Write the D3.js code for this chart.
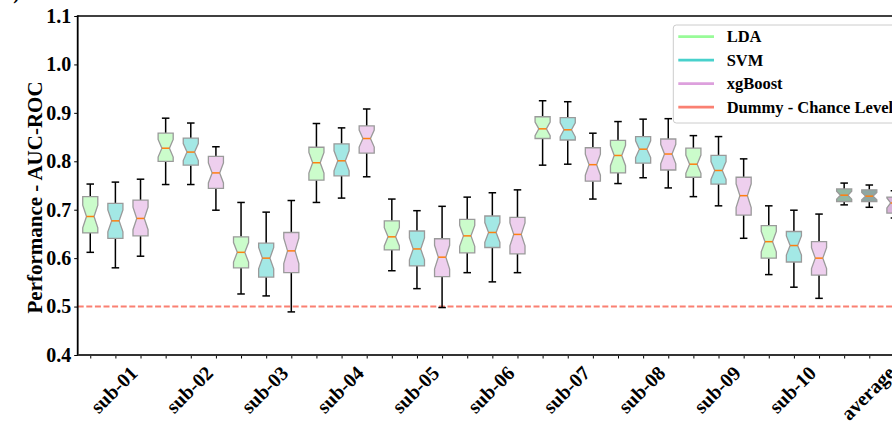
<!DOCTYPE html>
<html>
<head>
<meta charset="utf-8">
<script src="https://cdn.jsdelivr.net/npm/d3@7"></script>
<style>
  html, body { margin: 0; padding: 0; background: #fff; }
  svg { display: block; }
  text { font-family: "Liberation Serif", "Times New Roman", serif; font-weight: bold; fill: #000; }
</style>
</head>
<body>
<svg id="chart" width="892" height="425"></svg>
<script>
// Subjects and the three classifiers compared on each of them
const categories = ["sub-01", "sub-02", "sub-03", "sub-04", "sub-05", "sub-06", "sub-07", "sub-08", "sub-09", "sub-10", "average"];
const models = ["LDA", "SVM", "xgBoost"];

// AUC-ROC summaries per subject: [lower whisker, Q1, median, Q3, upper whisker]
const ldaStats = [
  [0.612, 0.652, 0.686, 0.727, 0.753],
  [0.752, 0.800, 0.827, 0.858, 0.889],
  [0.526, 0.580, 0.612, 0.644, 0.715],
  [0.715, 0.761, 0.797, 0.829, 0.878],
  [0.574, 0.617, 0.644, 0.677, 0.722],
  [0.570, 0.611, 0.646, 0.680, 0.726],
  [0.792, 0.847, 0.867, 0.892, 0.925],
  [0.754, 0.776, 0.812, 0.843, 0.882],
  [0.727, 0.767, 0.794, 0.827, 0.853],
  [0.566, 0.600, 0.634, 0.667, 0.708],
  [0.710, 0.717, 0.730, 0.743, 0.755]
];
const svmStats = [
  [0.580, 0.641, 0.677, 0.713, 0.757],
  [0.752, 0.792, 0.819, 0.848, 0.879],
  [0.522, 0.561, 0.600, 0.631, 0.695],
  [0.724, 0.770, 0.801, 0.836, 0.869],
  [0.537, 0.584, 0.619, 0.656, 0.698],
  [0.551, 0.622, 0.653, 0.687, 0.735],
  [0.794, 0.844, 0.865, 0.890, 0.923],
  [0.766, 0.796, 0.825, 0.851, 0.887],
  [0.708, 0.753, 0.781, 0.812, 0.851],
  [0.540, 0.592, 0.626, 0.655, 0.699],
  [0.705, 0.717, 0.728, 0.741, 0.751]
];
const xgbStats = [
  [0.604, 0.646, 0.682, 0.720, 0.763],
  [0.699, 0.744, 0.776, 0.810, 0.830],
  [0.489, 0.570, 0.615, 0.653, 0.719],
  [0.768, 0.817, 0.847, 0.873, 0.908],
  [0.498, 0.562, 0.602, 0.640, 0.707],
  [0.570, 0.609, 0.649, 0.684, 0.741],
  [0.722, 0.759, 0.793, 0.828, 0.858],
  [0.745, 0.782, 0.815, 0.846, 0.888],
  [0.641, 0.689, 0.729, 0.767, 0.805],
  [0.517, 0.565, 0.600, 0.634, 0.691],
  [0.683, 0.693, 0.714, 0.726, 0.739]
];

const chanceLevel = 0.5;
const foldsPerSubject = 25;   // samples behind each box, sets the notch size
const yTicks = [0.4, 0.5, 0.6, 0.7, 0.8, 0.9, 1.0, 1.1];

// Colours
const lineColors = ["#98fb98", "#48d1cc", "#dda0dd"];
const boxFills = ["#cbfccb", "#a3e8e5", "#eecfee"];
const averageFills = ["#93b8a2", "#8ea7a2", "#d9b3d9"];
const chanceColor = "#fa8072";

const svg = d3.select("#chart");

const plotLeft = 77.7, plotTop = 16, plotBottom = 355, step = 25.13;
const nPos = categories.length * models.length;
const x = d3.scaleLinear().domain([0.5, nPos + 0.5]).range([plotLeft, plotLeft + nPos * step]);
const y = d3.scaleLinear().domain([0.4, 1.1]).range([plotBottom, plotTop]);
const boxWidth = 0.6;

// Build the flat list of boxes (position 1..33)
const allStats = [ldaStats, svmStats, xgbStats];
const boxes = [];
categories.forEach((cat, ci) => {
  models.forEach((m, mi) => {
    const s = allStats[mi][ci];
    boxes.push({
      pos: ci * models.length + mi + 1,
      model: mi,
      isAverage: cat === "average",
      low: s[0], q1: s[1], med: s[2], q3: s[3], high: s[4]
    });
  });
});

// Chance level
svg.append("line")
  .attr("x1", plotLeft).attr("x2", x(nPos + 0.5))
  .attr("y1", y(chanceLevel)).attr("y2", y(chanceLevel))
  .attr("stroke", chanceColor).attr("stroke-width", 1.9)
  .attr("stroke-dasharray", "6,2.6");

// Whiskers and caps
const g = svg.append("g");
boxes.forEach(b => {
  const cx = x(b.pos);
  const capHalf = (x(boxWidth / 4) - x(0));
  g.append("line").attr("x1", cx).attr("x2", cx).attr("y1", y(b.q3)).attr("y2", y(b.high))
    .attr("stroke", "#000").attr("stroke-width", 1.5);
  g.append("line").attr("x1", cx).attr("x2", cx).attr("y1", y(b.q1)).attr("y2", y(b.low))
    .attr("stroke", "#000").attr("stroke-width", 1.5);
  [b.high, b.low].forEach(v => {
    g.append("line").attr("x1", cx - capHalf).attr("x2", cx + capHalf)
      .attr("y1", y(v)).attr("y2", y(v))
      .attr("stroke", "#000").attr("stroke-width", 1.5);
  });
});

// Notched boxes
boxes.forEach(b => {
  const left = x(b.pos - boxWidth / 2), right = x(b.pos + boxWidth / 2);
  const nl = x(b.pos - boxWidth / 4), nr = x(b.pos + boxWidth / 4);
  const notch = 1.57 * (b.q3 - b.q1) / Math.sqrt(foldsPerSubject);
  const lo = b.med - notch, hi = b.med + notch;
  const pts = [
    [left, y(b.q1)], [right, y(b.q1)], [right, y(lo)], [nr, y(b.med)], [right, y(hi)],
    [right, y(b.q3)], [left, y(b.q3)], [left, y(hi)], [nl, y(b.med)], [left, y(lo)]
  ];
  g.append("path")
    .attr("d", d3.line()(pts) + "Z")
    .attr("fill", b.isAverage ? averageFills[b.model] : boxFills[b.model])
    .attr("stroke", "#9a9a9a").attr("stroke-width", 1.3);
  g.append("line").attr("x1", nl).attr("x2", nr).attr("y1", y(b.med)).attr("y2", y(b.med))
    .attr("stroke", "#ff7f0e").attr("stroke-width", 1.5);
});

// Axes
const yAxis = svg.append("g").attr("transform", `translate(${plotLeft},0)`)
  .call(d3.axisLeft(y).tickValues(yTicks).tickFormat(d3.format(".1f")).tickSize(3.5).tickPadding(3));
yAxis.select(".domain").remove();
yAxis.selectAll("line").attr("stroke", "#000").attr("stroke-width", 1);
yAxis.selectAll("text").style("font-size", "20px").style("font-family", "'Liberation Serif', serif").style("font-weight", "bold");

const xAxis = svg.append("g").attr("transform", `translate(0,${plotBottom})`)
  .call(d3.axisBottom(x).tickValues(d3.range(1, nPos + 1)).tickFormat("").tickSize(3.5));
xAxis.select(".domain").remove();
xAxis.selectAll("line").attr("stroke", "#000").attr("stroke-width", 1);

// Rotated group labels, centred under the middle box of each group
const labelSize = 20;
categories.forEach((cat, ci) => {
  const cx = x(ci * models.length + 2) - 1.5;
  const t = svg.append("text").text(cat)
    .style("font-size", labelSize + "px")
    .attr("text-anchor", "middle").attr("dominant-baseline", "central");
  const len = t.node().getComputedTextLength();
  const half = (len + labelSize * 0.9) / (2 * Math.SQRT2);
  t.attr("transform", `translate(${cx},${plotBottom + 8 + half}) rotate(-45)`);
});

// Spines
svg.append("line").attr("x1", plotLeft).attr("x2", plotLeft).attr("y1", plotTop - 0.75).attr("y2", plotBottom + 1)
  .attr("stroke", "#000").attr("stroke-width", 1.8);
svg.append("line").attr("x1", plotLeft).attr("x2", x(nPos + 0.5)).attr("y1", plotTop).attr("y2", plotTop)
  .attr("stroke", "#000").attr("stroke-width", 1.5);
svg.append("line").attr("x1", plotLeft).attr("x2", x(nPos + 0.5)).attr("y1", plotBottom).attr("y2", plotBottom)
  .attr("stroke", "#333").attr("stroke-width", 2);

// Y axis title
svg.append("text").text("Performance - AUC-ROC")
  .style("font-size", "21px")
  .attr("text-anchor", "start")
  .attr("transform", "translate(41.5,313.5) rotate(-90)");

// Panel letter (partly outside the canvas)
svg.append("text").text("b)").style("font-size", "20px")
  .attr("text-anchor", "end").attr("x", 20).attr("y", -1);

// Legend
const legend = svg.append("g").attr("transform", "translate(673.3,25)");
legend.append("rect").attr("width", 250).attr("height", 98).attr("rx", 3)
  .attr("fill", "#fff").attr("fill-opacity", 0.8).attr("stroke", "#cccccc").attr("stroke-width", 1);
const legendItems = models.map((m, i) => ({ label: m, color: lineColors[i] }))
  .concat([{ label: "Dummy - Chance Level", color: chanceColor }]);
legendItems.forEach((it, i) => {
  const ly = 11.7 + i * 23.5;
  legend.append("line").attr("x1", 5).attr("x2", 40.7).attr("y1", ly).attr("y2", ly)
    .attr("stroke", it.color).attr("stroke-width", 2.8);
  legend.append("text").text(it.label).attr("x", 53.4).attr("y", ly)
    .attr("dominant-baseline", "central").style("font-size", "16.5px");
});
</script>
</body>
</html>
